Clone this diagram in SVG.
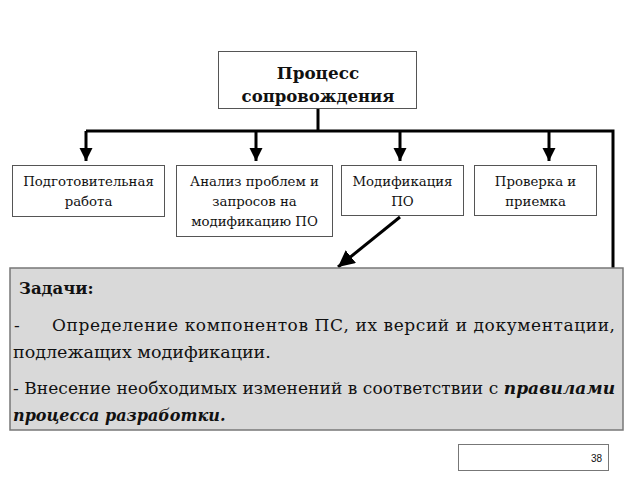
<svg xmlns="http://www.w3.org/2000/svg" width="640" height="480" viewBox="0 0 640 480">
<style>
.box{fill:#fff;stroke:#555;stroke-width:1}
text{font-family:'DejaVu Serif',serif;fill:#111}
.c{text-anchor:middle;font-size:13.3px}
.line{stroke:#000;stroke-width:3;fill:none}
</style>
<defs>
<marker id="ah" viewBox="0 0 10 10" refX="10" refY="5" markerWidth="4.5" markerHeight="4.5" orient="auto" markerUnits="strokeWidth">
<path d="M0,0 L10,5 L0,10 z" fill="#000"/>
</marker>
<marker id="ah2" viewBox="0 0 10 10" refX="10" refY="5" markerWidth="5.5" markerHeight="5.5" orient="auto" markerUnits="strokeWidth">
<path d="M0,0 L10,5 L0,10 z" fill="#000"/>
</marker>
</defs>
<rect width="640" height="480" fill="#fff"/>
<g id="connectors">
<path class="line" d="M318,108 V131"/>
<path class="line" d="M86,131 H613 V268"/>
<path class="line" d="M86,131 V161" marker-end="url(#ah)"/>
<path class="line" d="M256,131 V161" marker-end="url(#ah)"/>
<path class="line" d="M400,131 V161" marker-end="url(#ah)"/>
<path class="line" d="M549,131 V161" marker-end="url(#ah)"/>
<path class="line" d="M400,217 L338,267" marker-end="url(#ah2)"/>
</g>
<g id="process">
<rect class="box" x="218.500" y="51.500" width="198" height="57"/>
<text x="318" y="79" text-anchor="middle" font-size="16.8" font-weight="bold">Процесс</text>
<text x="318" y="102" text-anchor="middle" font-size="16.5" font-weight="bold">сопровождения</text>
</g>
<g id="prep">
<rect class="box" x="12.500" y="165.500" width="152" height="51"/>
<text class="c" x="88.500" y="186">Подготовительная</text>
<text class="c" x="88.500" y="206">работа</text>
</g>
<g id="analysis">
<rect class="box" x="176.500" y="165.500" width="156" height="71"/>
<text class="c" x="254.500" y="186">Анализ проблем и</text>
<text class="c" x="254.500" y="206">запросов на</text>
<text class="c" x="254.500" y="226">модификацию ПО</text>
</g>
<g id="modif">
<rect class="box" x="341.500" y="165.500" width="122" height="50"/>
<text class="c" x="402.500" y="186">Модификация</text>
<text class="c" x="402.500" y="206">ПО</text>
</g>
<g id="check">
<rect class="box" x="474.500" y="165.500" width="122" height="50"/>
<text class="c" x="535.500" y="186">Проверка и</text>
<text class="c" x="535.500" y="206">приемка</text>
</g>
<g id="tasks">
<rect x="10" y="268" width="613" height="162" fill="#d9d9d9" stroke="#777" stroke-width="1.5"/>
<text x="19" y="294" font-size="16.5" font-weight="bold">Задачи:</text>
<text x="14" y="331" font-size="17">-</text>
<text x="52" y="331" font-size="17" textLength="563" lengthAdjust="spacing">Определение компонентов ПС, их версий и документации,</text>
<text x="13" y="358" font-size="17.5">подлежащих модификации.</text>
<text x="13" y="394" font-size="17" textLength="602" lengthAdjust="spacing">- Внесение необходимых изменений в соответствии с <tspan font-weight="bold" font-style="italic">правилами</tspan></text>
<text x="13" y="421" font-size="16" font-weight="bold" font-style="italic">процесса разработки.</text>
</g>
<g id="page">
<rect x="458.500" y="444.500" width="150" height="26" fill="#fff" stroke="#777" stroke-width="1"/>
<text x="602" y="462" text-anchor="end" style="font-family:'Liberation Sans',Arial,sans-serif" font-size="10" fill="#666">38</text>
</g>
</svg>
